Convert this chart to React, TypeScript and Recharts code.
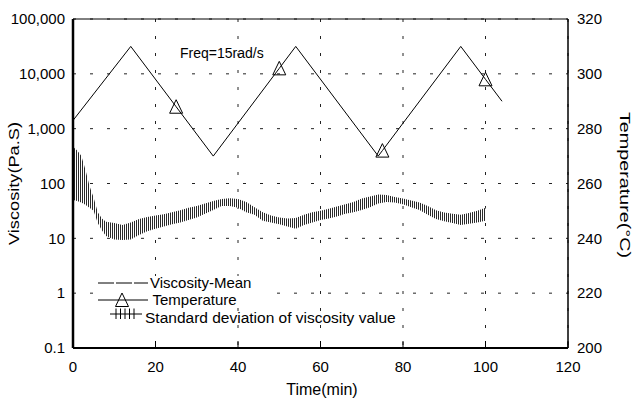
import React from 'react';
import {
  ComposedChart,
  Line,
  Area,
  XAxis,
  YAxis,
  CartesianGrid,
  ReferenceLine,
  Customized,
} from 'recharts';

const FONT = '"Liberation Sans", Arial, Helvetica, sans-serif';

const xTicks = [0, 20, 40, 60, 80, 100, 120];
const viscTicks = [0.1, 1, 10, 100, 1000, 10000, 100000];
const tempTicks = [200, 220, 240, 260, 280, 300, 320];

// Temperature profile (right axis)
const tempTimes = [0, 14, 25, 34, 50, 54, 74, 75, 94, 100, 104];
const tempValues = [283, 310, 288, 270, 302, 310, 270, 272, 310, 298, 290];
const markerTimes = [25, 50, 75, 100];

// Viscosity standard-deviation band (left axis, Pa.S)
const bandTimes = [
  0, 1, 2, 3, 4, 5, 6, 7, 8, 10, 12, 14, 16, 18, 20, 22, 24, 26, 28, 30, 32, 34, 36, 38, 40,
  42, 44, 46, 48, 50, 52, 54, 56, 58, 60, 62, 64, 66, 68, 70, 72, 74, 76, 78, 80, 82, 84, 86,
  88, 90, 92, 94, 96, 98, 100,
];
const bandUpper = [
  470, 400, 320, 180, 90, 55, 30, 23, 20, 19, 17.5, 19.5, 22.5, 24.5, 26, 27.5, 30, 32.5, 36, 39,
  43, 48, 52, 54, 52, 46, 37, 30, 26, 24, 23, 23.5, 27, 30, 32, 34.5, 38, 42, 46, 53, 58, 63, 62,
  57, 53, 49, 45, 39, 32.5, 29.5, 28, 27, 29, 32, 36,
];
const bandLower = [
  50, 48, 45, 41, 36, 32, 19, 14, 11, 9.5, 9.3, 9.5, 11.5, 13.5, 15, 16.5, 18, 19.5, 21.5, 24, 28,
  33, 39, 39, 36, 30, 27, 21, 19.5, 18, 16.5, 15, 17.5, 19.5, 21.5, 23, 25, 28, 30, 33, 37, 43, 46,
  45, 42, 37, 33, 27, 22.5, 20.5, 19, 17.5, 18.5, 19.5, 21,
];

const tempData = tempTimes.map((t, i) => ({
  t,
  temp: tempValues[i],
  m: markerTimes.includes(t),
}));

const bandData = bandTimes.map((t, i) => ({
  t,
  range: [bandLower[i], bandUpper[i]],
}));

const triPath = (cx: number, cy: number) =>
  `M${cx},${cy - 7} L${cx + 6.5},${cy + 6.5} L${cx - 6.5},${cy + 6.5} Z`;

const renderTri = (props: any) => {
  const { cx, cy, payload, index } = props;
  if (!payload || !payload.m) return <g key={`d${index}`} />;
  return (
    <path key={`d${index}`} d={triPath(cx, cy)} fill="none" stroke="#000" strokeWidth={1} />
  );
};

const Overlay = () => (
  <g fontFamily={FONT} fill="#000">
    <rect x={94} y={276} width={178} height={22} fill="#fff" />
    <rect x={94} y={276} width={131} height={56} fill="#fff" />
    <line x1={98} y1={283} x2={148} y2={283} stroke="#000" strokeWidth={1} strokeDasharray="16 2" />
    <text x={150} y={288} fontSize={15}>Viscosity-Mean</text>
    <line x1={98} y1={300} x2={148} y2={300} stroke="#000" strokeWidth={1} />
    <path d={triPath(122, 300)} fill="none" stroke="#000" strokeWidth={1} />
    <text x={152.5} y={305} fontSize={15}>Temperature</text>
    <line x1={110} y1={314} x2={142} y2={314} stroke="#000" strokeWidth={1} />
    {[116, 120.5, 125, 129.5, 134].map((x) => (
      <line key={x} x1={x} y1={308.5} x2={x} y2={319} stroke="#000" strokeWidth={1} />
    ))}
    <text x={145} y={323} fontSize={15.5}>Standard deviation of viscosity value</text>
    <text x={180} y={58.3} fontSize={14}>Freq=15rad/s</text>
    <text x={322} y={394.8} fontSize={16} textAnchor="middle">Time(min)</text>
    <text
      transform="translate(13.8,183.5) rotate(-90)"
      x={0}
      y={0}
      dy="0.36em"
      fontSize={15.5}
      textAnchor="middle"
      textLength={123}
      lengthAdjust="spacingAndGlyphs"
    >
      Viscosity(Pa.S)
    </text>
    <text
      transform="translate(626,185) rotate(90)"
      x={0}
      y={0}
      dy="0.36em"
      fontSize={15.5}
      textAnchor="middle"
      textLength={146}
      lengthAdjust="spacingAndGlyphs"
    >
      Temperature(°C)
    </text>
  </g>
);

const tickStyle = { fontSize: 15, fill: '#000', fontFamily: FONT };

export default function App() {
  return (
    <div style={{ position: 'absolute', left: 0, top: 0, background: '#fff' }}>
      <ComposedChart
        width={636}
        height={398}
        margin={{ top: 19, right: 13, bottom: 20, left: 13 }}
      >
        <defs>
          <pattern id="hatch" width="2" height="4" patternUnits="userSpaceOnUse">
            <rect x="0" y="0" width="2" height="4" fill="#fff" />
            <rect x="0" y="0" width="1" height="4" fill="#2a2a2a" />
          </pattern>
        </defs>
        <CartesianGrid
          yAxisId="left"
          stroke="#222"
          strokeWidth={1}
          strokeDasharray="3 14"
        />
        <XAxis
          dataKey="t"
          type="number"
          domain={[0, 120]}
          ticks={xTicks}
          allowDataOverflow
          height={30}
          tickSize={-7}
          tickMargin={20}
          axisLine={{ stroke: '#000', strokeWidth: 2 }}
          tickLine={{ stroke: '#000', strokeWidth: 1 }}
          tick={tickStyle}
          interval={0}
        />
        <YAxis
          yAxisId="left"
          scale="log"
          domain={[0.1, 100000]}
          ticks={viscTicks}
          allowDataOverflow
          width={60}
          tickSize={0}
          tickLine={false}
          tickMargin={8}
          axisLine={{ stroke: '#000', strokeWidth: 2.5 }}
          tick={tickStyle}
          interval={0}
          tickFormatter={(v: number) => (v >= 1 ? v.toLocaleString('en-US') : String(v))}
        />
        <YAxis
          yAxisId="right"
          orientation="right"
          domain={[200, 320]}
          ticks={tempTicks}
          allowDataOverflow
          width={55}
          tickSize={0}
          tickLine={false}
          tickMargin={9}
          axisLine={{ stroke: '#000', strokeWidth: 1.5 }}
          tick={tickStyle}
          interval={0}
        />
        <ReferenceLine yAxisId="left" y={100000} stroke="#000" strokeWidth={1} />
        <Area
          data={bandData}
          dataKey="range"
          yAxisId="left"
          type="linear"
          stroke="none"
          fill="url(#hatch)"
          fillOpacity={1}
          isAnimationActive={false}
          activeDot={false}
        />
        <Line
          data={tempData}
          dataKey="temp"
          yAxisId="right"
          type="linear"
          stroke="#000"
          strokeWidth={1}
          dot={renderTri}
          activeDot={false}
          isAnimationActive={false}
        />
        <Customized component={Overlay} />
      </ComposedChart>
    </div>
  );
}
